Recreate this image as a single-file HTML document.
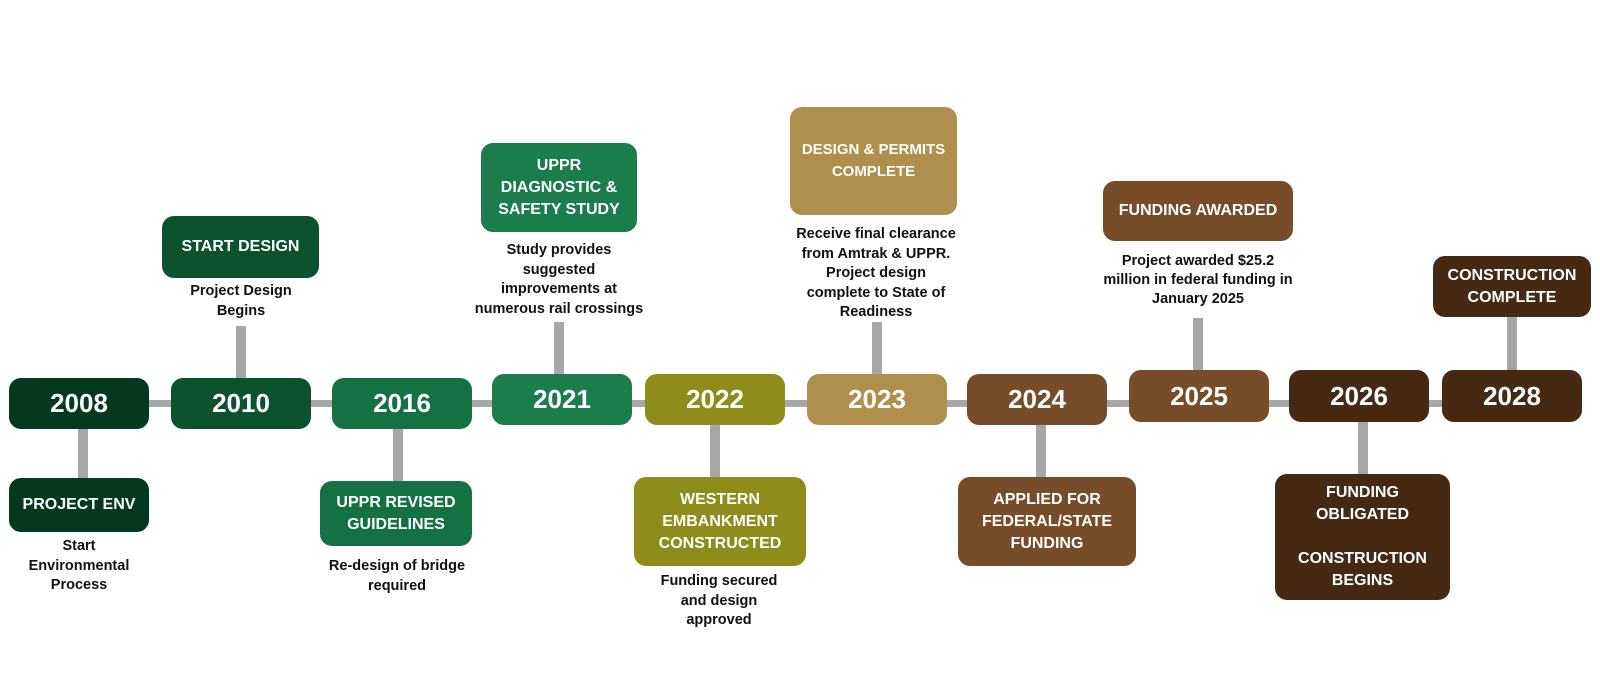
<!DOCTYPE html>
<html>
<head>
<meta charset="utf-8">
<style>
  html, body { margin:0; padding:0; }
  body { width:1600px; height:700px; background:#ffffff; position:relative; overflow:hidden;
         font-family:"Liberation Sans", Arial, sans-serif; }
  .line { position:absolute; background:#a7a7a7; }
  .box { position:absolute; border-radius:12px; color:#ffffff; font-weight:bold;
         display:flex; align-items:center; justify-content:center; text-align:center; }
  .yr { font-size:26px; }
  .ev { font-size:16px; line-height:22px; }
  .desc { position:absolute; font-size:14.5px; line-height:19.6px; font-weight:bold; color:#111;
          text-align:center; white-space:nowrap; transform:translateX(-50%); }
  .c1 { background:#05391f; }
  .c2 { background:#0c5230; }
  .c3 { background:#157143; }
  .c4 { background:#1b7c4c; }
  .c5 { background:#8e8c1a; }
  .c6 { background:#ae8f4c; }
  .c7 { background:#774c28; }
  .c8 { background:#452913; }
</style>
</head>
<body>
  <!-- main horizontal line -->
  <div class="line" style="left:20px; top:400px; width:1550px; height:7px;"></div>

  <!-- vertical connectors -->
  <div class="line" style="left:78px; top:425px; width:10px; height:56px;"></div>
  <div class="line" style="left:236px; top:326px; width:10px; height:56px;"></div>
  <div class="line" style="left:393px; top:425px; width:10px; height:59px;"></div>
  <div class="line" style="left:554px; top:322px; width:10px; height:56px;"></div>
  <div class="line" style="left:710px; top:421px; width:10px; height:59px;"></div>
  <div class="line" style="left:872px; top:322px; width:10px; height:56px;"></div>
  <div class="line" style="left:1036px; top:421px; width:10px; height:59px;"></div>
  <div class="line" style="left:1193px; top:318px; width:10px; height:56px;"></div>
  <div class="line" style="left:1358px; top:418px; width:10px; height:59px;"></div>
  <div class="line" style="left:1507px; top:315px; width:10px; height:58px;"></div>

  <!-- year boxes -->
  <div class="box yr c1" style="left:9px; top:378px; width:140px; height:51px;">2008</div>
  <div class="box yr c2" style="left:171px; top:378px; width:140px; height:51px;">2010</div>
  <div class="box yr c3" style="left:332px; top:378px; width:140px; height:51px;">2016</div>
  <div class="box yr c4" style="left:492px; top:374px; width:140px; height:51px;">2021</div>
  <div class="box yr c5" style="left:645px; top:374px; width:140px; height:51px;">2022</div>
  <div class="box yr c6" style="left:807px; top:374px; width:140px; height:51px;">2023</div>
  <div class="box yr c7" style="left:967px; top:374px; width:140px; height:51px;">2024</div>
  <div class="box yr c7" style="left:1129px; top:370px; width:140px; height:52px;">2025</div>
  <div class="box yr c8" style="left:1289px; top:370px; width:140px; height:52px;">2026</div>
  <div class="box yr c8" style="left:1442px; top:370px; width:140px; height:52px;">2028</div>

  <!-- event boxes -->
  <div class="box ev c1" style="left:9px; top:478px; width:140px; height:54px;">PROJECT ENV</div>
  <div class="box ev c2" style="left:162px; top:216px; width:157px; height:62px;">START DESIGN</div>
  <div class="box ev c3" style="left:320px; top:481px; width:152px; height:65px;">UPPR REVISED<br>GUIDELINES</div>
  <div class="box ev c4" style="left:481px; top:143px; width:156px; height:89px;">UPPR<br>DIAGNOSTIC &amp;<br>SAFETY STUDY</div>
  <div class="box ev c5" style="left:634px; top:477px; width:172px; height:89px;">WESTERN<br>EMBANKMENT<br>CONSTRUCTED</div>
  <div class="box ev c6" style="left:790px; top:107px; width:167px; height:108px;"><span style="font-size:15px;">DESIGN &amp; PERMITS<br>COMPLETE</span></div>
  <div class="box ev c7" style="left:958px; top:477px; width:178px; height:89px;">APPLIED FOR<br>FEDERAL/STATE<br>FUNDING</div>
  <div class="box ev c7" style="left:1103px; top:181px; width:190px; height:60px;">FUNDING AWARDED</div>
  <div class="box ev c8" style="left:1275px; top:474px; width:175px; height:126px;">FUNDING<br>OBLIGATED<br><br>CONSTRUCTION<br>BEGINS</div>
  <div class="box ev c8" style="left:1433px; top:256px; width:158px; height:61px;">CONSTRUCTION<br>COMPLETE</div>

  <!-- descriptions -->
  <div class="desc" style="left:79px; top:537px;">Start<br>Environmental<br>Process</div>
  <div class="desc" style="left:241px; top:282px;">Project Design<br>Begins</div>
  <div class="desc" style="left:397px; top:557px;">Re-design of bridge<br>required</div>
  <div class="desc" style="left:559px; top:241px;">Study provides<br>suggested<br>improvements at<br>numerous rail crossings</div>
  <div class="desc" style="left:719px; top:572px;">Funding secured<br>and design<br>approved</div>
  <div class="desc" style="left:876px; top:225px;">Receive final clearance<br>from Amtrak &amp; UPPR.<br>Project design<br>complete to State of<br>Readiness</div>
  <div class="desc" style="left:1198px; top:252px; line-height:19px;">Project awarded $25.2<br>million in federal funding in<br>January 2025</div>
</body>
</html>
